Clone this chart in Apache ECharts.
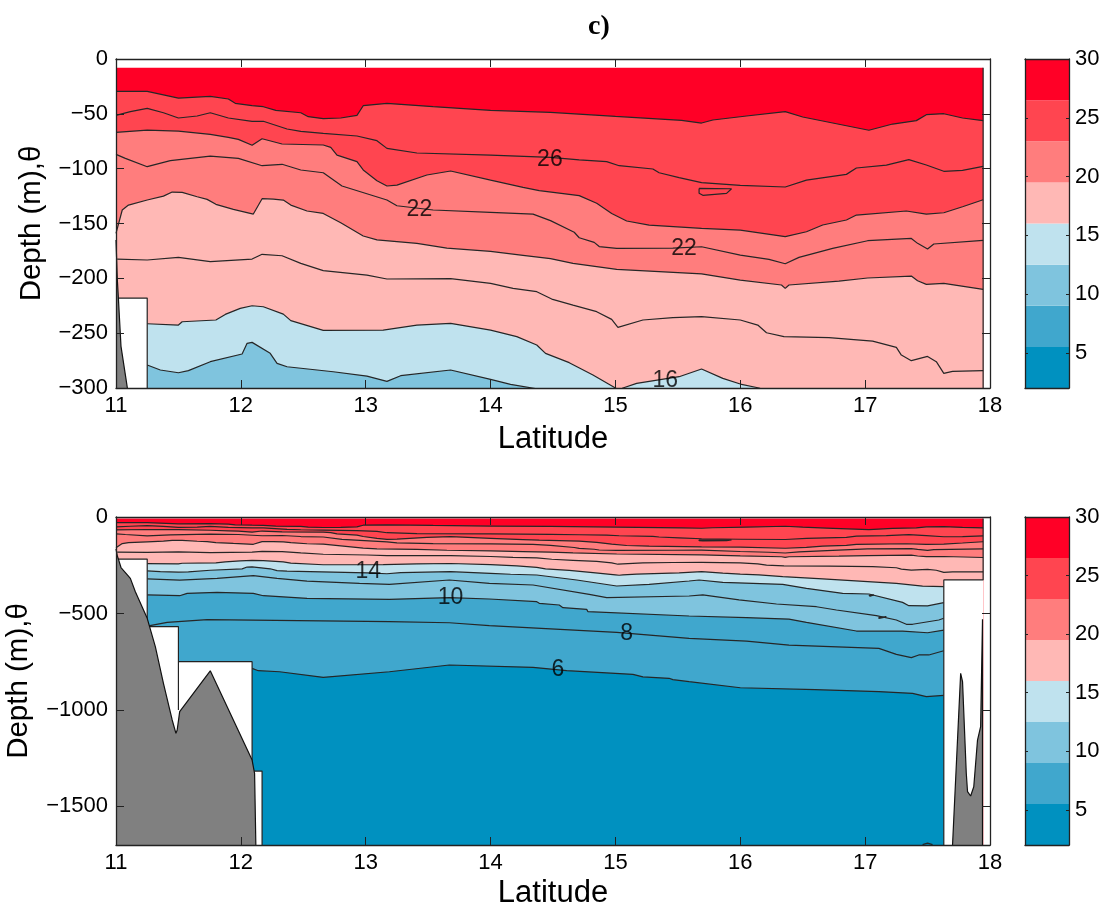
<!DOCTYPE html>
<html>
<head>
<meta charset="utf-8">
<style>html,body{margin:0;padding:0;background:#fff}#c{width:1109px;height:914px}</style>
<script src="https://cdn.jsdelivr.net/npm/echarts@6/dist/echarts.min.js"></script>
</head>
<body>
<div id="c"></div>
<script>
// Isotherms: [latitude, depth in m]
const seaTop = [[11,-8],[17.945,-8]];
const iso28 = [[11,-29.5],[11.25,-29.5],[11.5,-35.6],[11.755,-34],[11.9,-36.5],[11.955,-40.4],[12.09,-42.6],[12.18,-43.5],[12.28,-46.8],[12.48,-49],[12.54,-52.6],[12.66,-54.4],[12.8,-53.8],[12.93,-51.4],[12.98,-42.6],[13.17,-40.4],[13.54,-43.5],[14,-46.8],[14.48,-48.6],[15,-52.3],[15.53,-55.9],[15.69,-58.4],[15.78,-55.6],[16.05,-52],[16.36,-48],[16.5,-52.9],[16.69,-57.2],[17.03,-65],[17.22,-59.3],[17.41,-56.2],[17.49,-50.8],[17.63,-49.9],[17.78,-53.8],[17.945,-56.2]];
const iso26 = [[11,-51.4],[11.115,-48],[11.25,-45],[11.38,-49],[11.5,-53.8],[11.65,-52],[11.755,-49],[11.9,-53.8],[12.09,-56.8],[12.18,-56.8],[12.37,-63.8],[12.48,-66],[12.66,-67.8],[12.93,-70.2],[13.09,-74.5],[13.17,-81.5],[13.41,-85.7],[14,-87.6],[14.48,-89.7],[14.71,-92],[14.93,-93.6],[15.03,-97.3],[15.3,-100.3],[15.35,-103.7],[15.51,-108.2],[15.69,-112.8],[16,-115.2],[16.36,-116.7],[16.53,-110.4],[16.85,-105.2],[16.93,-99.4],[17.17,-96.7],[17.35,-91.8],[17.49,-96.7],[17.63,-102.4],[17.78,-101.5],[17.945,-97.9]];
const iso24 = [[11,-66.9],[11.25,-64.8],[11.5,-65.7],[11.755,-68.7],[11.9,-71.4],[11.98,-73.3],[12.09,-78.7],[12.17,-72.7],[12.33,-77.5],[12.66,-78.4],[12.72,-80.6],[12.77,-87.6],[12.93,-93.6],[12.98,-101.2],[13.09,-111],[13.17,-115.8],[13.25,-115],[13.49,-105.8],[13.68,-102.1],[14,-110.4],[14.26,-117],[14.39,-120],[14.71,-124.6],[14.85,-131.6],[14.97,-140.8],[15.09,-147.7],[15.27,-151.4],[15.69,-154.4],[16,-156],[16.36,-162],[16.53,-157.5],[16.66,-151.4],[16.85,-146.8],[16.93,-142.3],[17.33,-138.6],[17.49,-141.4],[17.63,-140.2],[17.78,-134.7],[17.945,-128.3]];
const iso22 = [[11,-87],[11.075,-90.6],[11.25,-98.2],[11.435,-92.7],[11.755,-88.5],[11.98,-90.6],[12.17,-97.3],[12.33,-96],[12.48,-101.2],[12.66,-103.7],[12.81,-115.8],[13.17,-128.6],[13.25,-133.8],[13.54,-137.7],[14,-139.8],[14.34,-141.4],[14.48,-147.4],[14.67,-158],[14.71,-163],[14.83,-167.2],[14.87,-171],[15.01,-172.7],[15.46,-172.4],[15.69,-171.2],[16,-178.8],[16.23,-182.7],[16.36,-186.7],[16.47,-180.9],[16.74,-172.7],[17.02,-165.7],[17.37,-163.6],[17.42,-168.1],[17.5,-173.3],[17.55,-168.7],[17.945,-165.4]];
const iso20 = [[11,-159],[11.05,-137.7],[11.1,-133.2],[11.25,-128.6],[11.38,-125],[11.45,-121.3],[11.53,-121.6],[11.65,-125.6],[11.73,-128],[11.8,-132.5],[11.94,-137.1],[12.1,-141.4],[12.17,-127.4],[12.26,-127.7],[12.34,-128.6],[12.4,-133.2],[12.53,-138.6],[12.66,-140.8],[12.8,-149.3],[12.98,-161.4],[13.09,-165],[13.41,-168.1],[13.65,-172.4],[14,-175.4],[14.26,-179],[14.48,-182.1],[14.66,-186.4],[15.01,-191.8],[15.69,-196],[16,-201.6],[16.33,-206.1],[16.36,-209.2],[16.39,-206.1],[16.79,-202.5],[17.02,-199.7],[17.37,-197.9],[17.42,-202.2],[17.49,-205.5],[17.63,-204.6],[17.945,-210]];
const iso18 = [[11.01,-182.4],[11.25,-183.3],[11.5,-180.9],[11.755,-184.8],[12.09,-182.4],[12.17,-178.1],[12.33,-179.4],[12.48,-186.4],[12.66,-193],[13.01,-197],[13.17,-200.6],[13.68,-200.3],[14,-204.6],[14.18,-209.2],[14.37,-212.2],[14.49,-218.9],[14.66,-224.4],[14.85,-230.4],[14.97,-237.4],[15.02,-244.7],[15.22,-238],[15.46,-235.9],[15.69,-235],[16,-238],[16.14,-242.6],[16.21,-249.6],[16.35,-253.2],[16.71,-254.1],[17.06,-257.2],[17.25,-263],[17.29,-270],[17.37,-275.1],[17.5,-271.2],[17.57,-276],[17.63,-286.7],[17.7,-284.8],[17.945,-284.2]];
const iso16 = [[11.25,-241.4],[11.5,-242.6],[11.53,-239.6],[11.8,-238],[11.875,-232.9],[11.995,-227.4],[12.09,-225],[12.18,-225.9],[12.34,-232.6],[12.4,-238.6],[12.66,-247.5],[13.14,-247.2],[13.41,-242.6],[13.68,-241.1],[14,-247.2],[14.21,-253.2],[14.37,-260.8],[14.44,-268.4],[14.63,-276.9],[14.82,-288.2],[15,-300],[15.03,-302],[15.06,-300],[15.17,-295.8],[15.51,-289.7],[15.69,-282.7],[15.86,-291.2],[16,-296.4],[16.15,-300],[16.34,-309],[16.66,-321],[17.25,-344],[17.46,-358],[17.63,-361]];
const iso14 = [[11.25,-279],[11.355,-283.6],[11.5,-286.1],[11.58,-284.2],[11.755,-276],[12.01,-269],[12.05,-259.3],[12.09,-258.4],[12.235,-268.4],[12.29,-277.6],[12.37,-280.6],[12.74,-285.2],[13.01,-289.1],[13.17,-294],[13.28,-288.8],[13.68,-283.6],[14,-292.1],[14.16,-296.7],[14.37,-300.7],[14.69,-326.6],[15.01,-357.7],[15.27,-349],[15.59,-331.8],[15.67,-326.6],[15.86,-338.7],[16.34,-349],[16.53,-369.8],[16.82,-395.7],[17.03,-399],[17.3,-442.4],[17.35,-459.6],[17.5,-461],[17.63,-444]];
const iso12 = [[11.25,-321],[11.51,-327],[11.81,-318],[12.1,-304],[12.29,-318],[12.53,-332],[12.95,-344],[13.19,-349],[13.67,-326.6],[13.99,-344],[14.34,-352.5],[14.79,-401],[14.93,-418],[15.59,-409.5],[15.7,-404],[15.99,-430],[16.29,-451],[16.61,-465],[16.77,-482],[17.09,-511.5],[17.25,-534],[17.33,-556],[17.38,-556],[17.59,-534],[17.63,-525]];
const iso10 = [[11.25,-404],[11.51,-408],[11.57,-395.7],[11.81,-390.5],[12.1,-395.7],[12.18,-408],[12.53,-421.6],[13.19,-426.8],[13.67,-418],[13.99,-425],[14.37,-439],[14.39,-447.6],[14.55,-456],[14.58,-470],[14.77,-478.7],[14.78,-490.8],[15.59,-513],[16.05,-522],[16.39,-529],[16.53,-546],[16.93,-591],[17.3,-591],[17.5,-600],[17.63,-586]];
const iso8 = [[11.25,-566],[11.41,-546],[11.73,-532],[13.19,-542.6],[13.67,-548],[13.99,-563],[15.01,-598],[15.59,-629],[16.05,-643],[16.39,-663.6],[17.11,-681],[17.25,-712],[17.37,-729],[17.43,-715],[17.51,-715],[17.63,-693]];
const iso6 = [[12.09,-784.5],[12.14,-796.6],[12.31,-802],[12.66,-831],[13.19,-802],[13.67,-767],[14.34,-779],[14.61,-796.6],[15.14,-815.6],[15.22,-829],[15.43,-836],[15.46,-843],[15.59,-853.6],[16,-885],[16.6,-895],[17.11,-905],[17.38,-914],[17.49,-931],[17.63,-925]];
const loop26 = [[15.67,-118],[15.93,-118.3],[15.89,-122.5],[15.7,-124.3],[15.67,-122.5],[15.67,-118]];
const loop14 = [[17.03,-406],[17.07,-404],[17.08,-410],[17.04,-411],[17.03,-406]];
const loop12 = [[17.11,-520],[17.17,-518],[17.16,-525],[17.11,-526],[17.11,-520]];
const loopDeep = [[17.46,-1698],[17.5,-1690],[17.54,-1698]];

const isoLines = [seaTop, iso28, iso26, iso24, iso22, iso20, iso18, iso16, iso14, iso12, iso10, iso8, iso6];
const bandColors = ['#ff0026','#ff4550','#ff7d7d','#ffb8b5','#bfe2ee','#7fc4de','#40a7cd','#0091c0'];
const isoFills = [0,1,null,2,null,3,null,4,5,null,6,null,7];
const closedLoops = [loop26, loop14, loop12, loopDeep];

// Land and no-data masks
const maskLeft = [[11,-218],[11.25,-218],[11.25,-568],[11.5,-568],[11.5,-1000],[11.5,-750],[12.09,-750],[12.09,-1317],[12.17,-1317],[12.17,-1700]];
const maskRight = [[17.63,-1700],[17.63,-326],[17.945,-326],[17.945,-8]];
const landLeft = [[11,-165],[11.01,-200],[11.02,-220],[11.04,-262],[11.075,-288],[11.115,-318],[11.155,-387],[11.25,-525],[11.315,-672],[11.38,-862],[11.45,-1052],[11.48,-1121.4],[11.49,-1104],[11.51,-1009],[11.755,-797],[12.09,-1260],[12.11,-1329],[12.12,-1700]];
const landRight = [[17.7,-1700],[17.765,-810],[17.78,-853],[17.81,-1328],[17.82,-1423],[17.845,-1446],[17.87,-1398],[17.9,-1156],[17.925,-1087],[17.94,-530],[17.94,-1700]];

// Contour labels: [lat, depth, text]
const labelsTop = [[14.475,-92,'26'],[13.43,-137,'22'],[15.55,-173,'22'],[15.4,-293,'16']];
const labelsBottom = [[13.02,-285,'14'],[13.68,-420,'10'],[15.09,-606,'8'],[14.54,-793,'6']];

// Axes
const latTicksMin = 11, latTicksMax = 18;
const depthTopMin = -300;
const depthBottomMin = -1700;
const depthBottomTicks = [0,-500,-1000,-1500];
const colorbarValues = [5.5,3.5,3.5,3.5,3.5,3.5,3.5,3.5];
const colorbarTicks = [5,10,15,20,25,30];
const colorbarTickMarks = [5,10,15,20,25];

const FONT = '"Liberation Sans", Arial, sans-serif';
const AX = '#222';
const TICK = 22;
const minusFmt = v => String(v).replace('-', '\u2212');
const panels = [{top:59, height:329, min:depthTopMin, labels:labelsTop, nameGap:69, latGap:36},
                {top:517, height:328, min:depthBottomMin, labels:labelsBottom, nameGap:82, latGap:33}];

const grid = [], xAxis = [], yAxis = [], series = [];
panels.forEach((p, i) => {
  grid.push({left:116, width:874, top:p.top, height:p.height, outerBoundsMode:'none'});
  const line = {show:true, onZero:false, lineStyle:{color:AX, width:1.3}};
  const tick = {show:true, inside:true, length:8, lineStyle:{color:AX, width:1}};
  xAxis.push({type:'value', gridIndex:i, position:'bottom', min:latTicksMin, max:latTicksMax, interval:1, z:10,
    axisLine:line, axisTick:tick, splitLine:{show:false},
    axisLabel:{color:'#000', fontSize:TICK, fontFamily:FONT, margin:7},
    name:'Latitude', nameLocation:'middle', nameGap:p.latGap, nameTextStyle:{color:'#000', fontSize:31, fontFamily:FONT}});
  xAxis.push({type:'value', gridIndex:i, position:'top', min:latTicksMin, max:latTicksMax, interval:1, z:10,
    axisLine:line, axisTick:tick, axisLabel:{show:false}, splitLine:{show:false}});
  const yTicks = i === 0 ? {interval:50} : {};
  const custom = i === 0 ? {} : {customValues:depthBottomTicks};
  yAxis.push(Object.assign({type:'value', gridIndex:i, position:'left', min:p.min, max:0, z:10,
    axisLine:line, axisTick:Object.assign({}, tick, custom), splitLine:{show:false},
    axisLabel:Object.assign({color:'#000', fontSize:TICK, fontFamily:FONT, margin:8, padding:[6,0,0,0], formatter:minusFmt}, custom),
    name:'Depth (m),\u03b8', nameLocation:'middle', nameGap:p.nameGap,
    nameTextStyle:{color:'#000', fontSize:29.5, fontFamily:FONT}}, yTicks));
  yAxis.push(Object.assign({type:'value', gridIndex:i, position:'right', min:p.min, max:0, z:10,
    axisLine:line, axisTick:Object.assign({}, tick, custom), axisLabel:{show:false}, splitLine:{show:false}}, yTicks));
  const xi = i*2, yi = i*2;
  const base = {type:'line', xAxisIndex:xi, yAxisIndex:yi, symbol:'none', silent:true, animation:false, clip:true};
  const lineSt = {color:'#262626', width:1.2};
  isoLines.forEach((d, k) => {
    const s = Object.assign({}, base, {data:d, z:2, lineStyle: k === 0 ? {width:0} : lineSt});
    if (isoFills[k] !== null) s.areaStyle = {origin:'start', color:bandColors[isoFills[k]], opacity:1};
    series.push(s);
  });
  closedLoops.forEach(d => series.push(Object.assign({}, base, {data:d, z:2, lineStyle:lineSt})));
  [maskLeft, maskRight].forEach(d => series.push(Object.assign({}, base, {data:d, z:3, lineStyle:{color:'#222', width:1.2}, areaStyle:{origin:'start', color:'#fff', opacity:1}})));
  [landLeft, landRight].forEach(d => series.push(Object.assign({}, base, {data:d, z:4, lineStyle:{color:'#111', width:1.2}, areaStyle:{origin:'start', color:'#808080', opacity:1}})));
  series.push({type:'scatter', xAxisIndex:xi, yAxisIndex:yi, symbolSize:0, silent:true, animation:false, z:6,
    data:p.labels, label:{show:true, position:'inside', color:'#000', fontSize:23, fontFamily:FONT, formatter:q => q.value[2]}});
});
// Colorbars
panels.forEach((p, i) => {
  const gi = grid.length;
  grid.push({left:1025, width:44, top:p.top, height:p.height, outerBoundsMode:'none'});
  const line = {show:true, onZero:false, lineStyle:{color:AX, width:1.3}};
  const xi = xAxis.length, yi = yAxis.length;
  xAxis.push({type:'category', gridIndex:gi, data:['θ'], position:'bottom', z:10, axisLine:line, axisTick:{show:false}, axisLabel:{show:false}, splitLine:{show:false}});
  xAxis.push({type:'category', gridIndex:gi, data:['θ'], position:'top', z:10, axisLine:line, axisTick:{show:false}, axisLabel:{show:false}, splitLine:{show:false}});
  const tick = {show:true, inside:true, length:3, customValues:colorbarTickMarks, lineStyle:{color:AX, width:1}};
  yAxis.push({type:'value', gridIndex:gi, position:'right', min:2, max:30, z:10, axisLine:line, axisTick:tick, splitLine:{show:false},
    axisLabel:{color:'#000', fontSize:TICK, fontFamily:FONT, margin:6, padding:[6,0,0,0], customValues:colorbarTicks}});
  yAxis.push({type:'value', gridIndex:gi, position:'left', min:2, max:30, z:10, axisLine:line, axisTick:tick, splitLine:{show:false}, axisLabel:{show:false}});
  colorbarValues.forEach((v, k) => series.push({type:'bar', xAxisIndex:xi, yAxisIndex:yi, stack:'cb'+i, barWidth:'100%', silent:true, animation:false,
    data:[v], itemStyle:{color:bandColors[7-k]}}));
});

const chart = echarts.init(document.getElementById('c'), null, {renderer:'canvas', width:1109, height:914});
chart.setOption({
  animation:false, backgroundColor:'#fff',
  title:{text:'c)', left:583, top:8, textStyle:{fontFamily:'"Liberation Serif", serif', fontWeight:'bold', fontSize:28, color:'#000'}},
  grid, xAxis, yAxis, series
});
</script>
</body>
</html>
